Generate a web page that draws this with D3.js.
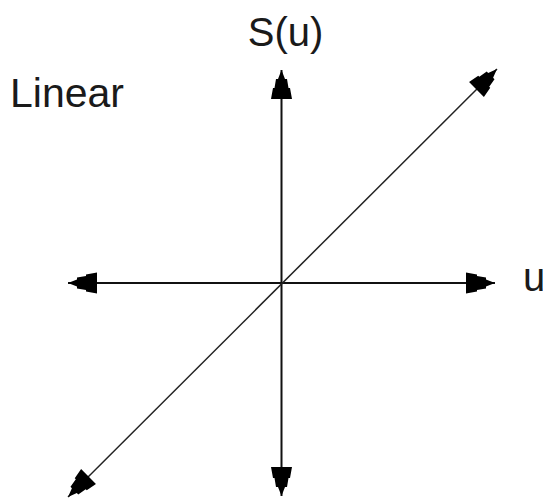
<!DOCTYPE html>
<html>
<head>
<meta charset="utf-8">
<script src="https://cdn.jsdelivr.net/npm/d3@7"></script>
<style>
  html, body { margin: 0; padding: 0; background: #fff; }
  text { font-family: "Liberation Sans", Arial, Helvetica, sans-serif; fill: #1a1a1a; }
</style>
</head>
<body>
<div id="chart"></div>
<script>
// dados do grafico
var title = ["Linear"];
var axisLabels = ["u", "S(u)"];
var uVals = [-1, 1];      // entrada
var sVals = [-1, 1];      // S(u) = u
var axisExtent = [-1, 1];

var width = 543;
var height = 499;

var x = d3.scaleLinear().domain(axisExtent).range([68, 495]);
var y = d3.scaleLinear().domain(axisExtent).range([496, 70]);
// diagonal vai um pouco mais longe que os eixos
var xd = d3.scaleLinear().domain(axisExtent).range([68, 497]);
var yd = d3.scaleLinear().domain(axisExtent).range([497, 69]);

var svg = d3.select('#chart').append('svg')
    .attr('width', width)
    .attr('height', height);

// ponta de seta em degraus (aponta para +x, ponta na origem)
var headPts = [[0, 0], [-9, -3.5], [-9, -5.5], [-18, -7], [-18, -8.5], [-29, -10.5],
               [-29, 10.5], [-18, 8.5], [-18, 7], [-9, 5.5], [-9, 3.5]];

svg.append('defs').append('marker')
    .attr('id', 'head')
    .attr('viewBox', '-30 -12 31 24')
    .attr('refX', 0)
    .attr('refY', 0)
    .attr('markerWidth', 31)
    .attr('markerHeight', 24)
    .attr('markerUnits', 'userSpaceOnUse')
    .attr('orient', 'auto-start-reverse')
    .append('path')
    .attr('d', d3.line()(headPts) + 'Z')
    .attr('fill', '#000');

var line = d3.line();

// eixo horizontal
svg.append('path')
    .attr('d', line([[x(axisExtent[0]), y(0)], [x(axisExtent[1]), y(0)]]))
    .attr('stroke', '#111')
    .attr('stroke-width', 2)
    .attr('marker-start', 'url(#head)')
    .attr('marker-end', 'url(#head)');

// eixo vertical
svg.append('path')
    .attr('d', line([[x(0), y(axisExtent[0])], [x(0), y(axisExtent[1])]]))
    .attr('stroke', '#111')
    .attr('stroke-width', 2)
    .attr('marker-start', 'url(#head)')
    .attr('marker-end', 'url(#head)');

// funcao linear
svg.append('path')
    .attr('d', line(uVals.map(function (u, i) { return [xd(u), yd(sVals[i])]; })))
    .attr('stroke', '#222')
    .attr('stroke-width', 1.5)
    .attr('fill', 'none')
    .attr('marker-start', 'url(#head)')
    .attr('marker-end', 'url(#head)');

// textos
svg.append('text')
    .attr('x', 10)
    .attr('y', 107)
    .attr('font-size', 41)
    .text(title[0]);

svg.append('text')
    .attr('x', 523)
    .attr('y', 291)
    .attr('font-size', 40)
    .text(axisLabels[0]);

svg.append('text')
    .attr('x', x(0) + 4)
    .attr('y', 46)
    .attr('text-anchor', 'middle')
    .attr('font-size', 40)
    .text(axisLabels[1]);
</script>
</body>
</html>
